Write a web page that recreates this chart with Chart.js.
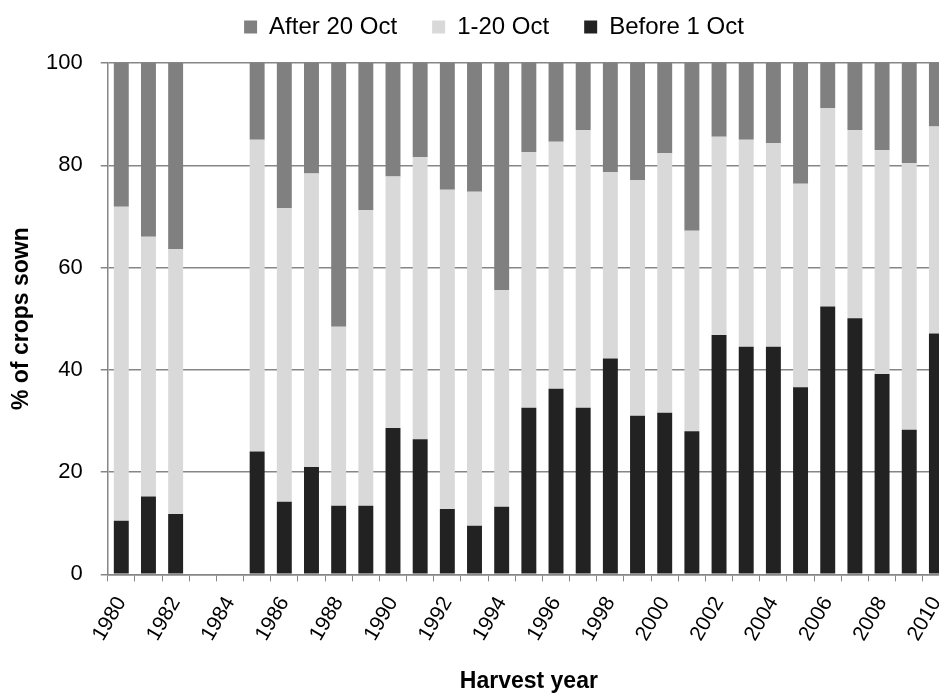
<!DOCTYPE html>
<html>
<head>
<meta charset="utf-8">
<script src="https://cdn.jsdelivr.net/npm/chart.js@4.4.1/dist/chart.umd.min.js"></script>
<style>
  html, body { margin: 0; padding: 0; background: #fff; overflow: hidden; }
  .chart-wrap { width: 952px; height: 695px; }
</style>
</head>
<body>
<div class="chart-wrap">
  <canvas id="sowing-chart" width="952" height="695"></canvas>
</div>
<script>
// harvest years (1983, 1984 no data)
const years = ['1980','1981','1982','1983','1984','1985','1986','1987','1988','1989',
  '1990','1991','1992','1993','1994','1995','1996','1997','1998','1999',
  '2000','2001','2002','2003','2004','2005','2006','2007','2008','2009','2010'];

const before1Oct = [10.5, 15.2, 11.8, null, null, 24.0, 14.2, 21.0, 13.4, 13.4,
  28.6, 26.4, 12.8, 9.5, 13.2, 32.6, 36.3, 32.6, 42.2, 31.0,
  31.6, 28.0, 46.8, 44.5, 44.5, 36.6, 52.4, 50.1, 39.2, 28.3, 47.1];

const oct1to20 = [61.4, 50.8, 51.8, null, null, 61.0, 57.4, 57.4, 35.0, 57.8,
  49.2, 55.2, 62.4, 65.3, 42.4, 50.0, 48.3, 54.3, 36.5, 46.1,
  50.8, 39.2, 38.8, 40.5, 39.8, 39.8, 38.8, 36.8, 43.8, 52.1, 40.5];

const after20Oct = [28.1, 34.0, 36.4, null, null, 15.0, 28.4, 21.6, 51.6, 28.8,
  22.2, 18.4, 24.8, 25.2, 44.4, 17.4, 15.4, 13.1, 21.3, 22.9,
  17.6, 32.8, 14.4, 15.0, 15.7, 23.6, 8.8, 13.1, 17.0, 19.6, 12.4];

const yTicks = [0, 20, 40, 60, 80, 100];

const axisGrey = '#868686';
const font = 'Arial, "Liberation Sans", sans-serif';

// nudge the legend row up and right like the original layout
const legendShift = {
  id: 'legendShift',
  afterLayout(chart) {
    const lg = chart.legend;
    lg.left += 19; lg.right += 19;
    lg.top -= 14; lg.bottom -= 14;
  }
};

const ctx = document.getElementById('sowing-chart').getContext('2d');

new Chart(ctx, {
  type: 'bar',
  data: {
    labels: years,
    datasets: [
      { label: 'Before 1 Oct', data: before1Oct, backgroundColor: '#222222' },
      { label: '1-20 Oct', data: oct1to20, backgroundColor: '#d9d9d9' },
      { label: 'After 20 Oct', data: after20Oct, backgroundColor: '#808080' }
    ]
  },
  plugins: [legendShift],
  options: {
    responsive: false,
    animation: false,
    layout: { padding: { top: -6, right: 2, bottom: 0, left: 0 } },
    datasets: {
      bar: { categoryPercentage: 1, barPercentage: 0.55, borderWidth: 0 }
    },
    plugins: {
      tooltip: { enabled: false },
      legend: {
        position: 'top',
        reverse: true,
        labels: {
          boxWidth: 13,
          boxHeight: 13,
          padding: 35,
          color: '#000',
          font: { family: font, size: 24 }
        }
      }
    },
    scales: {
      x: {
        stacked: true,
        offset: true,
        afterFit: function (scale) {
          // plot runs to the right edge (last bar gets cut like the original)
          scale.paddingLeft = 0;
          scale.paddingRight = 0;
        },
        grid: {
          offset: true,
          drawOnChartArea: false,
          color: axisGrey,
          tickLength: 7
        },
        border: { color: axisGrey, width: 1.5 },
        ticks: {
          autoSkip: false,
          minRotation: 60,
          maxRotation: 60,
          padding: 11,
          color: '#000',
          font: { family: font, size: 21 },
          callback: function (val, i) { return i % 2 === 0 ? years[i] : ''; }
        },
        title: {
          display: true,
          text: 'Harvest year',
          color: '#000',
          font: { family: font, size: 23, weight: 'bold' },
          padding: { top: 11, bottom: 0 }
        }
      },
      y: {
        stacked: true,
        min: 0,
        max: 100,
        afterBuildTicks: function (axis) {
          axis.ticks = yTicks.map(v => ({ value: v }));
        },
        grid: { color: axisGrey, lineWidth: 1.5, tickLength: 7 },
        border: { color: axisGrey, width: 1.5 },
        ticks: {
          color: '#000',
          padding: 18,
          font: { family: font, size: 22 }
        },
        title: {
          display: true,
          text: '% of crops sown',
          color: '#000',
          font: { family: font, size: 23, weight: 'bold', lineHeight: 1 },
          padding: { top: 10, bottom: -5 }
        }
      }
    }
  }
});
</script>
</body>
</html>
